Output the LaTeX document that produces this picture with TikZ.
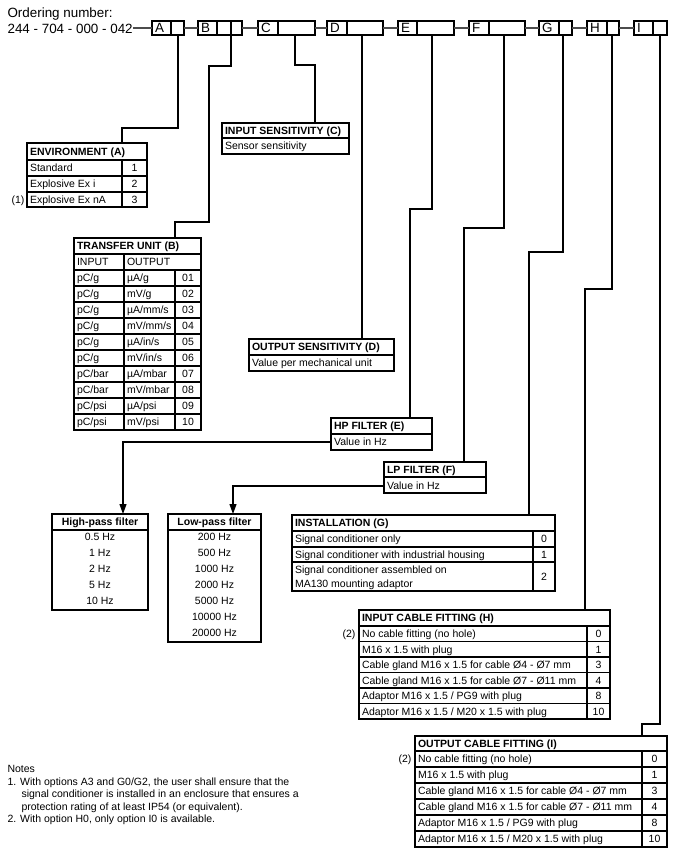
\documentclass[tikz,border=0pt]{standalone}
\usepackage{fontspec}
\setmainfont{Liberation Sans}
\usetikzlibrary{arrows.meta,calc}
\newcount\tn
\newcommand\TX[4][txt]{\global\advance\tn by 1\relax\node[#1] (n\the\tn) at (#2,#3) {#4};}
\begin{document}
\begin{tikzpicture}[x=1pt,y=-1pt,line width=1.1pt,
  txt/.style={anchor=base west,inner sep=0pt,font=\fontsize{10.5}{12}\selectfont},
  hdr/.style={txt,font=\fontsize{10.5}{12}\selectfont\bfseries},
  ctr/.style={anchor=base,inner sep=0pt,font=\fontsize{10.5}{12}\selectfont},
  ctrb/.style={ctr,font=\fontsize{10.5}{12}\selectfont\bfseries},
  rgt/.style={anchor=base east,inner sep=0pt,font=\fontsize{10.5}{12}\selectfont},
  ttl/.style={anchor=base west,inner sep=0pt,font=\fontsize{13.4}{15}\selectfont},
  frame/.style={draw,anchor=north west,inner sep=0pt,outer sep=0pt},
  link/.style={draw=black!70,line width=1.8pt},
  conn/.style={draw=black,line width=1.1pt},
  tip/.style={-{Triangle[width=7pt,length=10pt]}},
]
\useasboundingbox (0,0) rectangle (676,858);

% ---------- title ----------
\node[ttl] (title1) at (7,18) {Ordering number:};
\node[ttl] (title2) at (7,33.5) {244 - 704 - 000 - 042};

% ---------- top code boxes ----------
\coordinate (l0) at (133,28);
\node[frame,minimum width=32pt,minimum height=14pt] (bA) at (152,21) {};
\node[frame,minimum width=44pt,minimum height=14pt] (bB) at (198,21) {};
\node[frame,minimum width=57pt,minimum height=14pt] (bC) at (258,21) {};
\node[frame,minimum width=56pt,minimum height=14pt] (bD) at (327,21) {};
\node[frame,minimum width=56pt,minimum height=14pt] (bE) at (398,21) {};
\node[frame,minimum width=56pt,minimum height=14pt] (bF) at (469,21) {};
\node[frame,minimum width=33pt,minimum height=14pt] (bG) at (539,21) {};
\node[frame,minimum width=32pt,minimum height=14pt] (bH) at (587,21) {};
\node[frame,minimum width=33pt,minimum height=14pt] (bI) at (634,21) {};
\draw[link] (l0) -- (bA.west);
\draw[link] (bA.east) -- (bB.west);
\draw[link] (bB.east) -- (bC.west);
\draw[link] (bC.east) -- (bD.west);
\draw[link] (bD.east) -- (bE.west);
\draw[link] (bE.east) -- (bF.west);
\draw[link] (bF.east) -- (bG.west);
\draw[link] (bG.east) -- (bH.west);
\draw[link] (bH.east) -- (bI.west);
\foreach \x in {171,217,231,278,347,417,489,559,607,653} \draw (\x,21) -- (\x,35);
\foreach \x/\l in {154.5/A,200.5/B,260.5/C,329.5/D,400.5/E,471.5/F,541.5/G,589.5/H,636.5/I}
  \node[ttl] (let\l) at (\x,33) {\l};

% drop points
\coordinate (dA) at (178,35);
\coordinate (dB) at (231,35);
\coordinate (dC) at (295,35);
\coordinate (dD) at (362,35);
\coordinate (dE) at (432,35);
\coordinate (dF) at (504,35);
\coordinate (dG) at (563,35);
\coordinate (dH) at (612,35);
\coordinate (dI) at (660,35);

% ---------- ENVIRONMENT (A) ----------
\node[frame,minimum width=120pt,minimum height=64pt] (env) at (27,143) {};
\foreach \y in {160,176,192} \draw (27,\y) -- (147,\y);
\draw (122,160) -- (122,207);
\TX[hdr]{29.5}{155.5}{ENVIRONMENT (A)}
\TX{29.5}{171.8}{Standard}
\TX{29.5}{187.8}{Explosive Ex i}
\TX{29.5}{203.3}{Explosive Ex nA}
\TX[ctr]{134.5}{171.8}{1}
\TX[ctr]{134.5}{187.8}{2}
\TX[ctr]{134.5}{203.3}{3}
\TX[rgt]{25}{203.3}{(1)}
\coordinate (tA) at (122,143);

% ---------- INPUT SENSITIVITY (C) ----------
\node[frame,minimum width=127pt,minimum height=31pt] (insens) at (222,123) {};
\draw (222,138) -- (349,138);
\TX[hdr]{224.5}{134.3}{INPUT SENSITIVITY (C)}
\TX{224.5}{149.7}{Sensor sensitivity}
\coordinate (tC) at (315,123);

% ---------- TRANSFER UNIT (B) ----------
\node[frame,minimum width=127pt,minimum height=192pt] (tu) at (74,238) {};
\foreach \y in {254,270,286,302,318,334,350,366,382,398,414} \draw (74,\y) -- (201,\y);
\draw (124,254) -- (124,430);
\draw (175,270) -- (175,430);
\TX[hdr]{76.5}{249.8}{TRANSFER UNIT (B)}
\TX{76.5}{265.8}{INPUT}
\TX{126.5}{265.8}{OUTPUT}
\foreach \i/\a/\b/\c in {0/pC\slash g/µA\slash g/01,1/pC\slash g/mV\slash g/02,2/pC\slash g/µA\slash mm\slash s/03,3/pC\slash g/mV\slash mm\slash s/04,4/pC\slash g/µA\slash in\slash s/05,5/pC\slash g/mV\slash in\slash s/06,6/pC\slash bar/µA\slash mbar/07,7/pC\slash bar/mV\slash mbar/08,8/pC\slash psi/µA\slash psi/09,9/pC\slash psi/mV\slash psi/10}{
  \node[txt] (tua\i) at (76.5,281.8+16*\i) {\a};
  \node[txt] (tub\i) at (126.5,281.8+16*\i) {\b};
  \node[ctr] (tuc\i) at (188,281.8+16*\i) {\c};
}
\coordinate (tB) at (175,238);

% ---------- OUTPUT SENSITIVITY (D) ----------
\node[frame,minimum width=145pt,minimum height=32pt] (outsens) at (249,339) {};
\draw (249,355) -- (394,355);
\TX[hdr]{251.5}{350.8}{OUTPUT SENSITIVITY (D)}
\TX{251.5}{366.8}{Value per mechanical unit}
\coordinate (tD) at (362,339);

% ---------- HP FILTER (E) ----------
\node[frame,minimum width=101pt,minimum height=32pt] (hp) at (331,418) {};
\draw (331,434) -- (432,434);
\TX[hdr]{333.5}{429.8}{HP FILTER (E)}
\TX{333.5}{445.8}{Value in Hz}
\coordinate (tE) at (410,418);
\coordinate (hpL) at (331,442);

% ---------- LP FILTER (F) ----------
\node[frame,minimum width=102pt,minimum height=31pt] (lp) at (384,462) {};
\draw (384,477) -- (486,477);
\TX[hdr]{386.5}{473.5}{LP FILTER (F)}
\TX{386.5}{489}{Value in Hz}
\coordinate (tF) at (464,462);
\coordinate (lpL) at (384,486);

% ---------- High-pass filter ----------
\node[frame,minimum width=96pt,minimum height=96pt] (hpt) at (52,514) {};
\draw (52,530) -- (148,530);
\TX[ctrb]{100}{525.8}{High-pass filter}
\foreach \i/\v in {0/0.5 Hz,1/1 Hz,2/2 Hz,3/5 Hz,4/10 Hz}
  \node[ctr] (hpv\i) at (100,540.8+16*\i) {\v};
\coordinate (hpT) at (123,514);

% ---------- Low-pass filter ----------
\node[frame,minimum width=93pt,minimum height=128pt] (lpt) at (168,514) {};
\draw (168,530) -- (261,530);
\TX[ctrb]{214.5}{525.8}{Low-pass filter}
\foreach \i/\v in {0/200 Hz,1/500 Hz,2/1000 Hz,3/2000 Hz,4/5000 Hz,5/10000 Hz,6/20000 Hz}
  \node[ctr] (lpv\i) at (214.5,540.8+16*\i) {\v};
\coordinate (lpT) at (233,514);

% ---------- INSTALLATION (G) ----------
\node[frame,minimum width=263pt,minimum height=76pt] (inst) at (292,515) {};
\foreach \y in {531,547,562} \draw (292,\y) -- (555,\y);
\draw (533,531) -- (533,591);
\TX[hdr]{294.5}{526.8}{INSTALLATION (G)}
\TX{294.5}{542.8}{Signal conditioner only}
\TX{294.5}{558.3}{Signal conditioner with industrial housing}
\TX{294.5}{573.8}{Signal conditioner assembled on}
\TX{294.5}{587.8}{MA130 mounting adaptor}
\TX[ctr]{544}{542.8}{0}
\TX[ctr]{544}{558.3}{1}
\TX[ctr]{544}{580.3}{2}
\coordinate (tG) at (529,515);

% ---------- INPUT CABLE FITTING (H) ----------
\node[frame,minimum width=251pt,minimum height=109pt] (inc) at (359,610) {};
\foreach \y in {626,641.5,657,672.5,688,703.5} \draw (359,\y) -- (610,\y);
\draw (587,626) -- (587,719);
\TX[hdr]{361.5}{621.8}{INPUT CABLE FITTING (H)}
\foreach \i/\a/\c in {0/No cable fitting (no hole)/0,1/M16 x 1.5 with plug/1,2/Cable gland M16 x 1.5 for cable Ø4 - Ø7 mm/3,3/Cable gland M16 x 1.5 for cable Ø7 - Ø11 mm/4,4/Adaptor M16 x 1.5 \slash\ PG9 with plug/8,5/Adaptor M16 x 1.5 \slash\ M20 x 1.5 with plug/10}{
  \node[txt] (inca\i) at (361.5,637.5+15.5*\i) {\a};
  \node[ctr] (incc\i) at (598.5,637.5+15.5*\i) {\c};
}
\TX[rgt]{356}{637.5}{(2)}
\coordinate (tH) at (585,610);

% ---------- OUTPUT CABLE FITTING (I) ----------
\node[frame,minimum width=252pt,minimum height=111pt] (outc) at (415,736) {};
\foreach \y in {751,767,783,799,815,831} \draw (415,\y) -- (667,\y);
\draw (642,751) -- (642,847);
\TX[hdr]{417.5}{747.5}{OUTPUT CABLE FITTING (I)}
\foreach \i/\a/\c in {0/No cable fitting (no hole)/0,1/M16 x 1.5 with plug/1,2/Cable gland M16 x 1.5 for cable Ø4 - Ø7 mm/3,3/Cable gland M16 x 1.5 for cable Ø7 - Ø11 mm/4,4/Adaptor M16 x 1.5 \slash\ PG9 with plug/8,5/Adaptor M16 x 1.5 \slash\ M20 x 1.5 with plug/10}{
  \node[txt] (outa\i) at (417.5,762.8+16*\i) {\a};
  \node[ctr] (outcc\i) at (654.5,762.8+16*\i) {\c};
}
\TX[rgt]{412}{762.8}{(2)}
\coordinate (tI) at (642,736);

% ---------- connectors ----------
\draw[conn] (dA) -- (178,128) -- (122,128) -- (tA);
\draw[conn] (dB) -- (231,66) -- (209,66) -- (209,222) -- (175,222) -- (tB);
\draw[conn] (dC) -- (295,65) -- (315,65) -- (tC);
\draw[conn] (dD) -- (tD);
\draw[conn] (dE) -- (432,209) -- (410,209) -- (tE);
\draw[conn] (dF) -- (504,228) -- (464,228) -- (tF);
\draw[conn] (dG) -- (563,252) -- (529,252) -- (tG);
\draw[conn] (dH) -- (612,289) -- (585,289) -- (tH);
\draw[conn] (dI) -- (660,724) -- (642,724) -- (tI);
\draw[conn,tip] (hpL) -- (123,442) -- (hpT);
\draw[conn,tip] (lpL) -- (233,486) -- (lpT);

% ---------- notes ----------
\TX{7}{772.5}{Notes}
\TX{7}{785}{1. With options A3 and G0\slash G2, the user shall ensure that the}
\TX{21}{797.5}{signal conditioner is installed in an enclosure that ensures a}
\TX{21}{810}{protection rating of at least IP54 (or equivalent).}
\TX{7}{822.5}{2. With option H0, only option I0 is available.}
\end{tikzpicture}
\end{document}
